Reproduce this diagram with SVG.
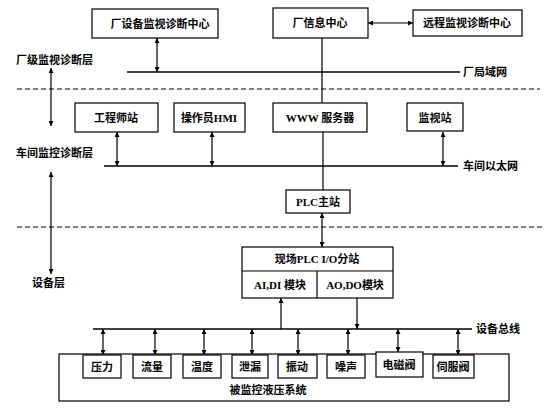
<svg xmlns="http://www.w3.org/2000/svg" width="555" height="417" viewBox="0 0 555 417">
<defs>
<marker id="ah" viewBox="0 0 6 6" refX="6" refY="3" markerWidth="5" markerHeight="5" orient="auto-start-reverse" markerUnits="userSpaceOnUse">
<path d="M0,0 L6,3 L0,6 z" fill="#000"/>
</marker>
</defs>
<style>
text{font-family:"Liberation Serif","Noto Sans CJK SC",serif;font-size:11px;fill:#000;text-anchor:middle;dominant-baseline:central;font-weight:bold}
.lbl{text-anchor:start}
.box{fill:#fff;stroke:#000;stroke-width:1.2}
.ln{stroke:#000;stroke-width:1.2;fill:none}
.bus{stroke:#000;stroke-width:1.6;fill:none}
.dash{stroke:#000;stroke-width:1.2;stroke-dasharray:5,3;fill:none}
.dbl{stroke:#000;stroke-width:1.2;fill:none;marker-start:url(#ah);marker-end:url(#ah)}
.end{stroke:#000;stroke-width:1.2;fill:none;marker-end:url(#ah)}
</style>
<rect width="555" height="417" fill="#fff"/>

<g id="layers">
<line class="dash" x1="17" y1="89" x2="540" y2="89"/>
<line class="dash" x1="17" y1="227" x2="545" y2="227"/>
<text class="lbl" x="16" y="60">厂级监视诊断层</text>
<text class="lbl" x="16" y="153">车间监控诊断层</text>
<text class="lbl" x="32" y="283">设备层</text>
<line class="dbl" x1="51" y1="68" x2="51" y2="126"/>
<line class="dbl" x1="51" y1="172" x2="51" y2="274"/>
</g>

<g id="connectors">
<line class="bus" x1="127" y1="72" x2="460" y2="72"/>
<line class="dbl" x1="157" y1="38" x2="157" y2="72"/>
<line class="ln" x1="322" y1="38" x2="322" y2="103"/>
<line class="dbl" x1="368" y1="23" x2="413" y2="23"/>
<line class="bus" x1="104" y1="166" x2="458" y2="166"/>
<line class="dbl" x1="117" y1="132" x2="117" y2="166"/>
<line class="dbl" x1="212" y1="132" x2="212" y2="166"/>
<line class="ln" x1="323" y1="132" x2="323" y2="190"/>
<line class="dbl" x1="443" y1="132" x2="443" y2="166"/>
<line class="dbl" x1="322" y1="213" x2="322" y2="247"/>
<line class="bus" x1="93" y1="329" x2="472" y2="329"/>
<line class="end" x1="281" y1="329" x2="281" y2="298"/>
<line class="end" x1="357" y1="298" x2="357" y2="329"/>
<line class="dbl" x1="103" y1="329" x2="103" y2="355"/>
<line class="dbl" x1="155" y1="329" x2="155" y2="355"/>
<line class="dbl" x1="204" y1="329" x2="204" y2="355"/>
<line class="dbl" x1="252" y1="329" x2="252" y2="355"/>
<line class="dbl" x1="298" y1="329" x2="298" y2="355"/>
<line class="dbl" x1="348" y1="329" x2="348" y2="355"/>
<line class="dbl" x1="398" y1="329" x2="398" y2="352"/>
<line class="dbl" x1="458" y1="329" x2="458" y2="355"/>
<text class="lbl" x="463" y="72">厂局域网</text>
<text class="lbl" x="463" y="166">车间以太网</text>
<text class="lbl" x="476" y="329">设备总线</text>
</g>

<g id="n-plant-diag"><rect class="box" x="92" y="9" width="126" height="29"/><text x="160" y="24">厂设备监视诊断中心</text></g>
<g id="n-plant-info"><rect class="box" x="273" y="8" width="95" height="30"/><text x="320" y="23">厂信息中心</text></g>
<g id="n-remote"><rect class="box" x="413" y="10" width="109" height="26"/><text x="467" y="23">远程监视诊断中心</text></g>

<g id="n-engineer"><rect class="box" x="75" y="103" width="83" height="29"/><text x="116" y="118">工程师站</text></g>
<g id="n-hmi"><rect class="box" x="174" y="103" width="71" height="29"/><text x="209" y="118">操作员HMI</text></g>
<g id="n-www"><rect class="box" x="273" y="103" width="94" height="29"/><text x="320" y="118">WWW 服务器</text></g>
<g id="n-monitor"><rect class="box" x="407" y="103" width="56" height="28"/><text x="435" y="118">监视站</text></g>

<g id="n-plc"><rect class="box" x="286" y="190" width="64" height="23"/><text x="318" y="202">PLC主站</text></g>

<g id="n-io">
<rect class="box" x="242" y="247" width="151" height="51"/>
<line class="ln" x1="242" y1="271" x2="393" y2="271"/>
<line class="ln" x1="317" y1="271" x2="317" y2="298"/>
<text x="317" y="259">现场PLC  I/O分站</text>
<text x="280" y="285">AI,DI 模块</text>
<text x="355" y="285">AO,DO模块</text>
</g>

<g id="n-system">
<rect class="box" x="59" y="354" width="450" height="47"/>
<text x="268" y="390">被监控液压系统</text>
</g>
<g id="n-pressure"><rect class="box" x="83" y="355" width="38" height="23"/><text x="102" y="367">压力</text></g>
<g id="n-flow"><rect class="box" x="133" y="355" width="38" height="23"/><text x="152" y="367">流量</text></g>
<g id="n-temp"><rect class="box" x="183" y="355" width="38" height="23"/><text x="202" y="367">温度</text></g>
<g id="n-leak"><rect class="box" x="232" y="355" width="36" height="23"/><text x="250" y="367">泄漏</text></g>
<g id="n-vib"><rect class="box" x="278" y="355" width="39" height="23"/><text x="297" y="367">振动</text></g>
<g id="n-noise"><rect class="box" x="327" y="355" width="38" height="23"/><text x="346" y="367">噪声</text></g>
<g id="n-solenoid"><rect class="box" x="376" y="352" width="47" height="25"/><text x="399" y="365">电磁阀</text></g>
<g id="n-servo"><rect class="box" x="433" y="355" width="41" height="23"/><text x="453" y="367">伺服阀</text></g>
</svg>
